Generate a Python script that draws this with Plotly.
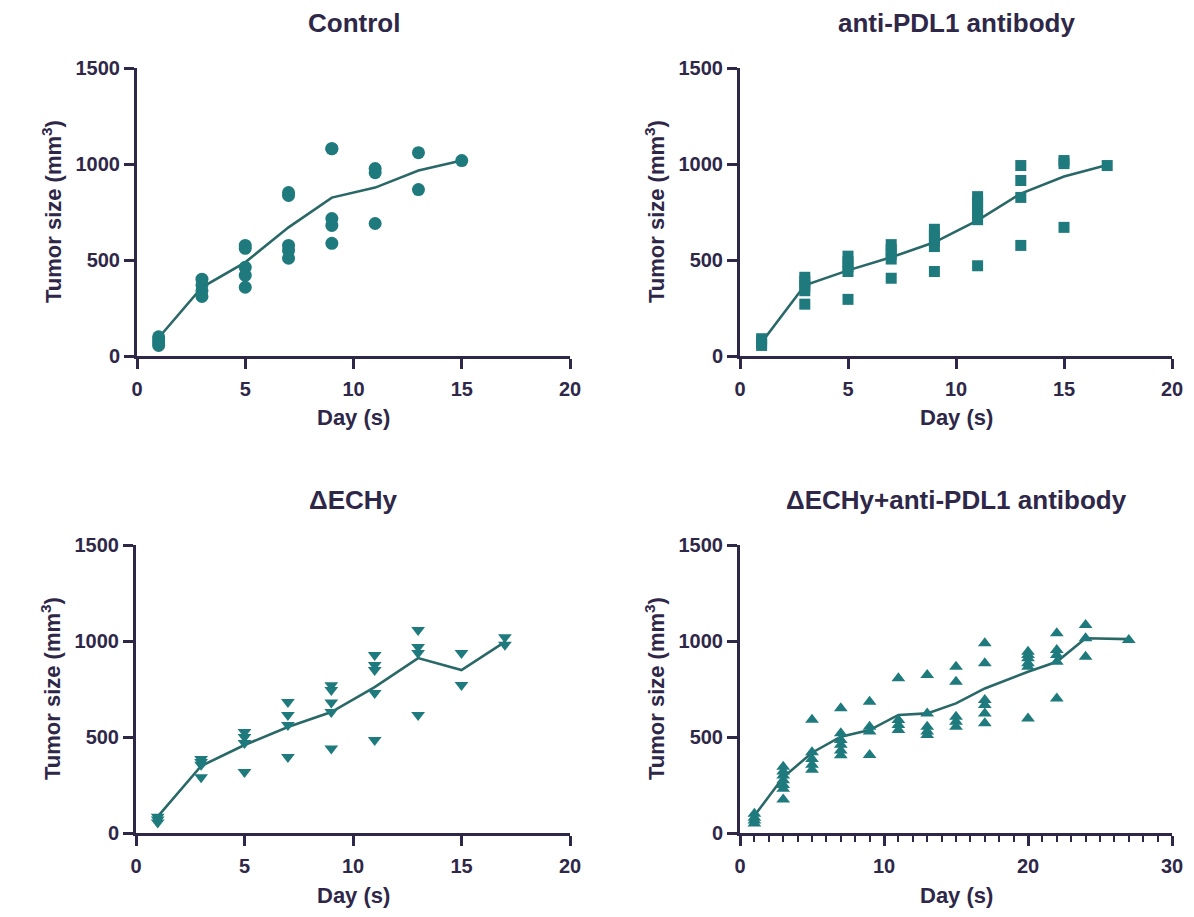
import plotly.graph_objects as go

# ---------------- data ----------------
ctrl_days = [1, 3, 5, 7, 9, 11, 13, 15]
ctrl_pts = [[100, 85, 70, 55], [400, 370, 340, 310], [576, 561, 462, 420, 358],
            [851, 836, 576, 550, 509], [1080, 1080, 716, 680, 587], [976, 955, 690],
            [1059, 867], [1018]]
ctrl_mean = [95, 358, 488, 670, 825, 877, 966, 1018]

pdl1_days = [1, 3, 5, 7, 9, 11, 13, 15, 17]
pdl1_pts = [[90, 70, 55], [410, 390, 365, 340, 270], [520, 490, 465, 440, 295],
            [580, 555, 530, 505, 405], [660, 630, 600, 570, 440],
            [830, 800, 770, 740, 710, 470], [992, 914, 826, 576], [1018, 1002, 670], [992]]
pdl1_mean = [70, 368, 446, 514, 592, 706, 846, 935, 995]

echy_days = [1, 3, 5, 7, 9, 11, 13, 15, 17]
echy_pts = [[85, 70, 55], [385, 370, 355, 290], [526, 500, 469, 318], [682, 615, 562, 396],
            [770, 745, 680, 630, 440], [927, 875, 849, 729, 484], [1057, 969, 937, 615],
            [937, 771], [1020, 980]]
echy_mean = [85, 349, 458, 552, 630, 760, 911, 849, 995]

combo_days = [1, 3, 5, 7, 9, 11, 13, 15, 17, 20, 22, 24, 27]
combo_pts = [[100, 80, 65, 50], [345, 320, 300, 275, 250, 230, 175], [590, 420, 385, 355, 330],
             [650, 520, 485, 460, 430, 405], [684, 554, 528, 406], [806, 589, 563, 536],
             [823, 623, 554, 528, 510], [866, 788, 606, 580, 554],
             [988, 884, 693, 667, 623, 571], [944, 927, 910, 884, 866, 597],
             [1040, 953, 927, 892, 701], [1083, 1014, 918], [1005]]
combo_mean = [90, 290, 418, 502, 536, 615, 623, 675, 753, 840, 892, 1014, 1010]

titles = ["Control", "anti-PDL1 antibody", "ΔECHy", "ΔECHy+anti-PDL1 antibody"]
xmax = [20, 20, 20, 30]
y_ticks = [0, 500, 1000, 1500]

# ---------------- style ----------------
PAGE_OFF = 8                      # default body margin of the html page
FW, FH = 1194 - 2 * PAGE_OFF, 917 - 2 * PAGE_OFF
INK = "#2e2748"
MARK = "#1f7a7d"
LINE = "#2a6868"
FONT = "Liberation Sans, Arial, sans-serif"


def sx(px):
    return (px - PAGE_OFF) / FW


def sy(py):
    return 1 - (py - PAGE_OFF) / FH


panels = [
    (ctrl_days, ctrl_pts, ctrl_mean, "circle", 13),
    (pdl1_days, pdl1_pts, pdl1_mean, "square", 11),
    (echy_days, echy_pts, echy_mean, "triangle-down", 12),
    (combo_days, combo_pts, combo_mean, "triangle-up", 12),
]

# screen-pixel boxes of plot areas: (left, right, top, bottom)
boxes = [(137, 570, 68, 356), (740, 1172, 68, 356),
         (136, 570, 545, 833), (740, 1172, 545, 833)]

fig = go.Figure()
ann = []
for i, ((days, pts, mean, sym, sz), (l, r, t, b)) in enumerate(zip(panels, boxes)):
    n = "" if i == 0 else str(i + 1)
    xs, ys = [], []
    for d, vals in zip(days, pts):
        xs += [d] * len(vals)
        ys += vals
    fig.add_trace(go.Scatter(x=days, y=mean, mode="lines",
                             line=dict(color=LINE, width=2.6),
                             xaxis="x" + n, yaxis="y" + n, showlegend=False))
    fig.add_trace(go.Scatter(x=xs, y=ys, mode="markers",
                             marker=dict(symbol=sym, size=sz, color=MARK, line=dict(width=0)),
                             xaxis="x" + n, yaxis="y" + n, showlegend=False))
    xa = dict(domain=[sx(l), sx(r)], range=[0, xmax[i]], dtick=10 if xmax[i] == 30 else 5,
              showline=True, linecolor=INK, linewidth=3, ticks="outside",
              ticklen=10, tickwidth=3, tickcolor=INK, showgrid=False, zeroline=False,
              tickfont=dict(family=FONT, size=20, color=INK, weight="bold"),
              ticklabelstandoff=3,
              anchor="y" + n, fixedrange=True, automargin=False)
    if xmax[i] == 30:
        xa["minor"] = dict(dtick=1, ticks="outside", ticklen=6, tickwidth=2, tickcolor=INK)
    ya = dict(domain=[sy(b), sy(t)], range=[0, 1500], tickvals=y_ticks,
              showline=True, linecolor=INK, linewidth=3, ticks="outside",
              ticklen=10, tickwidth=3, tickcolor=INK, showgrid=False, zeroline=False,
              tickfont=dict(family=FONT, size=20, color=INK, weight="bold"),
              anchor="x" + n, fixedrange=True, automargin=False)
    fig.update_layout(**{"xaxis" + n: xa, "yaxis" + n: ya})
    cx = sx((l + r) / 2)
    ann.append(dict(text=titles[i], x=cx, y=sy(t - 45), xref="paper", yref="paper",
                    showarrow=False, xanchor="center", yanchor="middle",
                    font=dict(family=FONT, size=26, color=INK, weight="bold")))
    ann.append(dict(text="Day (s)", x=cx, y=sy(b + 62), xref="paper", yref="paper",
                    showarrow=False, xanchor="center", yanchor="middle",
                    font=dict(family=FONT, size=22, color=INK, weight="bold")))
    ann.append(dict(text="Tumor size (mm<sup>3</sup>)", x=sx(l - 85), y=sy((t + b) / 2),
                    xref="paper", yref="paper", textangle=-90,
                    showarrow=False, xanchor="center", yanchor="middle",
                    font=dict(family=FONT, size=22, color=INK, weight="bold")))

fig.update_layout(width=FW, height=FH, margin=dict(l=0, r=0, t=0, b=0, pad=0),
                  autosize=False,
                  paper_bgcolor="white", plot_bgcolor="white",
                  annotations=ann, showlegend=False)
fig.write_html("out.html")
